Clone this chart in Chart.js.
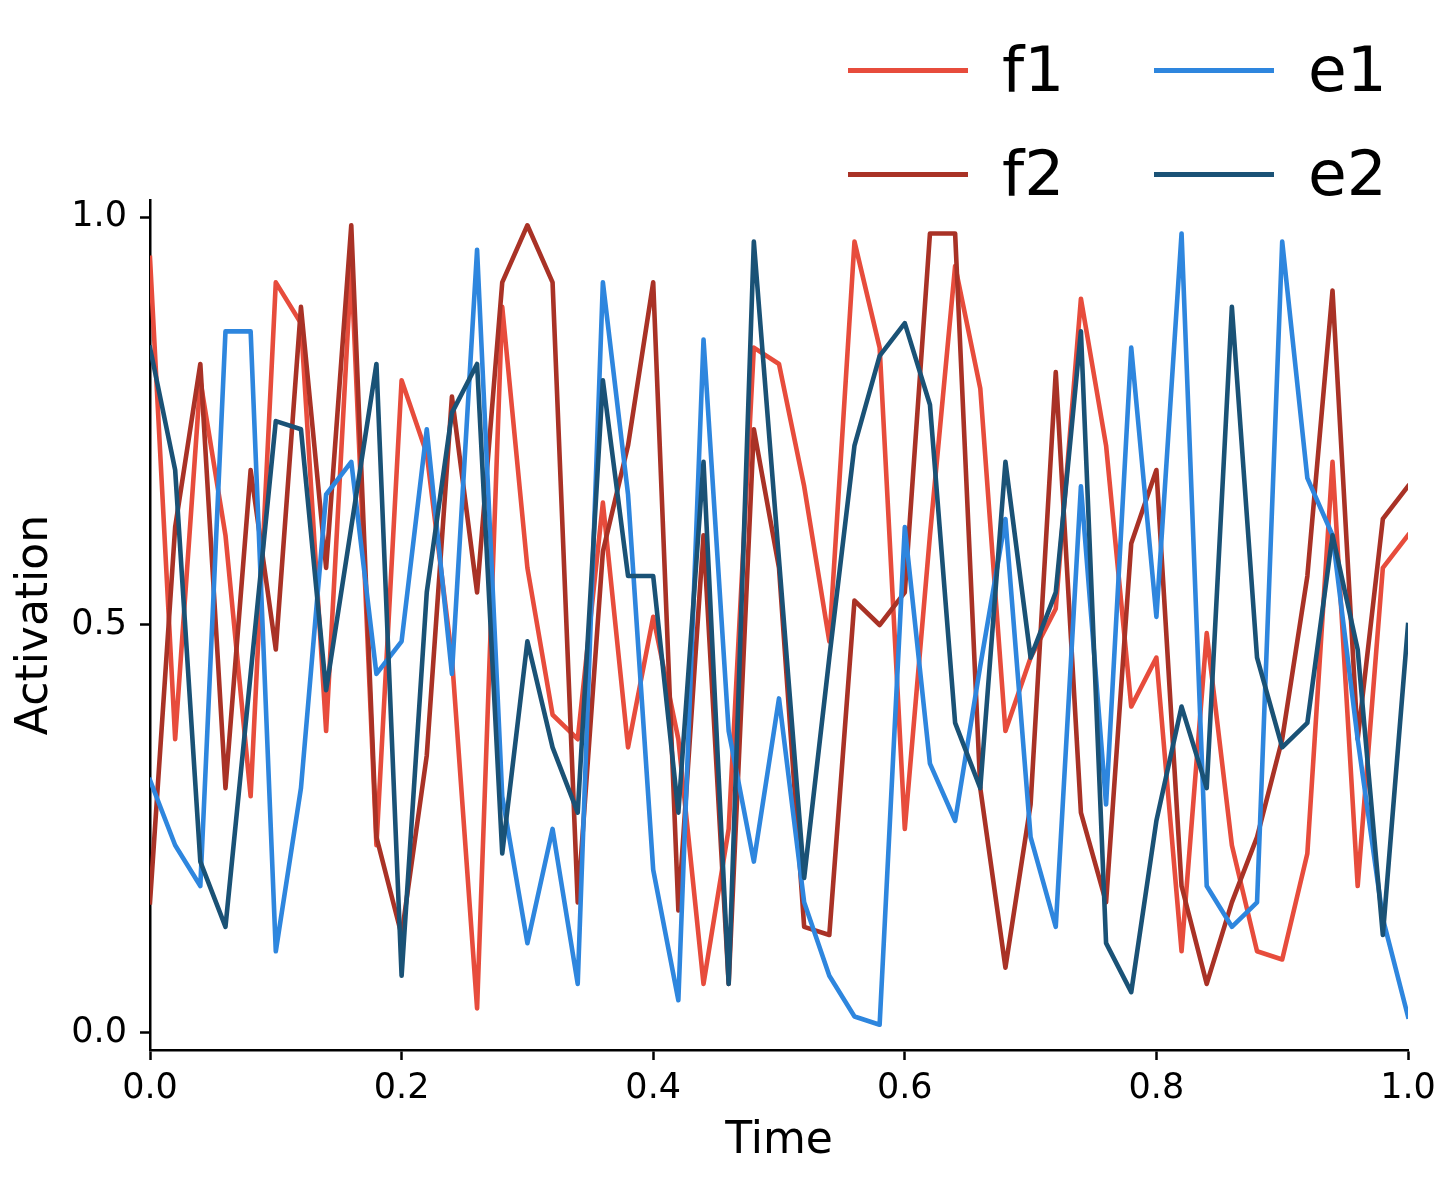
<!DOCTYPE html>
<html>
<head>
<meta charset="utf-8">
<script src="https://cdn.jsdelivr.net/npm/chart.js@4/dist/chart.umd.min.js"></script>
<style>
  html, body { margin: 0; padding: 0; background: #fff; }
  #wrap { position: relative; width: 1453px; height: 1177px; font-family: "DejaVu Sans", sans-serif; }
  #legend { position: absolute; left: 0; top: 0; width: 1453px; height: 200px; }
  .li { position: absolute; height: 70px; display: flex; align-items: center; }
  .li .sw { width: 120px; height: 5px; margin-right: 34px; }
  .li .tx { font-size: 63px; color: #000; line-height: 70px; }
</style>
</head>
<body>
<div id="wrap">
  <canvas id="c" width="1453" height="1177"></canvas>
  <div id="legend"></div>
</div>
<script>
// ---- data ----
const time = [0.00,0.02,0.04,0.06,0.08,0.10,0.12,0.14,0.16,0.18,0.20,0.22,0.24,0.26,0.28,0.30,0.32,0.34,0.36,0.38,0.40,0.42,0.44,0.46,0.48,0.50,0.52,0.54,0.56,0.58,0.60,0.62,0.64,0.66,0.68,0.70,0.72,0.74,0.76,0.78,0.80,0.82,0.84,0.86,0.88,0.90,0.92,0.94,0.96,0.98,1.00];
const f1 = [0.95,0.36,0.80,0.61,0.29,0.92,0.87,0.37,0.94,0.23,0.80,0.71,0.46,0.03,0.89,0.57,0.39,0.36,0.65,0.35,0.51,0.36,0.06,0.25,0.84,0.82,0.67,0.48,0.97,0.84,0.25,0.61,0.94,0.79,0.37,0.46,0.52,0.90,0.72,0.40,0.46,0.10,0.49,0.23,0.10,0.09,0.22,0.70,0.18,0.57,0.61];
const f2 = [0.16,0.62,0.82,0.30,0.69,0.47,0.89,0.57,0.99,0.24,0.12,0.34,0.78,0.54,0.92,0.99,0.92,0.16,0.59,0.72,0.92,0.15,0.61,0.06,0.74,0.57,0.13,0.12,0.53,0.50,0.54,0.98,0.98,0.30,0.08,0.28,0.81,0.27,0.16,0.60,0.69,0.18,0.06,0.16,0.24,0.36,0.56,0.91,0.36,0.63,0.67];
const e1 = [0.31,0.23,0.18,0.86,0.86,0.10,0.30,0.66,0.70,0.44,0.48,0.74,0.44,0.96,0.29,0.11,0.25,0.06,0.92,0.66,0.20,0.04,0.85,0.37,0.21,0.41,0.16,0.07,0.02,0.01,0.62,0.33,0.26,0.45,0.63,0.24,0.13,0.67,0.28,0.84,0.51,0.98,0.18,0.13,0.16,0.97,0.68,0.61,0.36,0.14,0.02];
const e2 = [0.84,0.69,0.21,0.13,0.44,0.75,0.74,0.42,0.62,0.82,0.07,0.54,0.76,0.82,0.22,0.48,0.35,0.27,0.80,0.56,0.56,0.27,0.70,0.06,0.97,0.58,0.19,0.46,0.72,0.83,0.87,0.77,0.38,0.30,0.70,0.46,0.54,0.86,0.11,0.05,0.26,0.40,0.30,0.89,0.46,0.35,0.38,0.61,0.47,0.12,0.50];
const seriesNames = ["f1","f2","e1","e2"];
const seriesColors = ["#e74c3c","#a93226","#2e86de","#1a5276"];
const xTicks = [0.0,0.2,0.4,0.6,0.8,1.0];
const yTicks = [0.0,0.5,1.0];

const allSeries = [f1,f2,e1,e2];
const datasets = allSeries.map((vals, k) => ({
  label: seriesNames[k],
  data: vals.map((v, i) => ({x: time[i], y: v})),
  borderColor: seriesColors[k],
  backgroundColor: seriesColors[k],
  borderWidth: 4.6,
  borderJoinStyle: 'round',
  borderCapStyle: 'square',
  pointRadius: 0,
  tension: 0,
  fill: false,
  order: 3 - k
}));

const FONT = "'DejaVu Sans', sans-serif";
new Chart(document.getElementById('c'), {
  type: 'line',
  data: { datasets },
  options: {
    responsive: false,
    animation: false,
    devicePixelRatio: 1,
    layout: { padding: { top: 200, right: 45, left: 0, bottom: 0 } },
    plugins: { legend: { display: false }, tooltip: { enabled: false } },
    scales: {
      x: {
        type: 'linear', min: 0, max: 1,
        afterBuildTicks: s => { s.ticks = xTicks.map(v => ({value: v})); },
        afterFit: s => { s.height = 127; },
        ticks: { color: '#000', font: { family: FONT, size: 35 }, padding: 8, maxRotation: 0,
                 callback: v => Number(v).toFixed(1) },
        grid: { drawOnChartArea: false, drawTicks: true, tickLength: 10, tickWidth: 2.5, tickColor: '#000' },
        border: { display: true, color: '#000', width: 2.5 },
        title: { display: true, text: 'Time', color: '#000', font: { family: FONT, size: 44 }, padding: { top: 0, bottom: 9 } }
      },
      y: {
        type: 'linear', min: -0.021, max: 1.021,
        afterBuildTicks: s => { s.ticks = yTicks.map(v => ({value: v})); },
        afterFit: s => { s.width = 150; },
        ticks: { color: '#000', font: { family: FONT, size: 35 }, padding: 13,
                 callback: v => Number(v).toFixed(1) },
        grid: { drawOnChartArea: false, drawTicks: true, tickLength: 10, tickWidth: 2.5, tickColor: '#000' },
        border: { display: true, color: '#000', width: 2.5 },
        title: { display: true, text: 'Activation', color: '#000', font: { family: FONT, size: 44 }, padding: { top: 9, bottom: 0 } }
      }
    }
  }
});

// legend: 2 columns, column-major like the reference
const legend = document.getElementById('legend');
const colLeft = [848, 1154];
const rowTop = [35, 139];
seriesNames.forEach((name, k) => {
  const col = Math.floor(k / 2), row = k % 2;
  const d = document.createElement('div');
  d.className = 'li';
  d.style.left = colLeft[col] + 'px';
  d.style.top = rowTop[row] + 'px';
  d.innerHTML = '<div class="sw" style="background:' + seriesColors[k] + '"></div><div class="tx">' + name + '</div>';
  legend.appendChild(d);
});
</script>
</body>
</html>
